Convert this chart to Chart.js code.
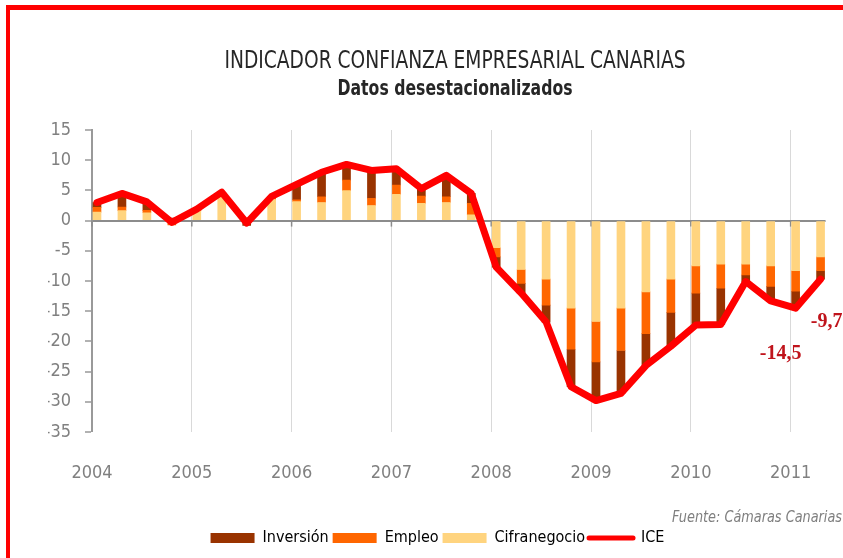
<!DOCTYPE html>
<html>
<head>
<meta charset="utf-8">
<title>Indicador Confianza Empresarial Canarias</title>
<script src="https://cdn.jsdelivr.net/npm/chart.js@4.4.1/dist/chart.umd.min.js"></script>
<style>
  html, body { margin: 0; padding: 0; background: #fff; }
  #wrap { position: relative; width: 843px; height: 558px; overflow: hidden; }
  #frame { position: absolute; left: 6px; top: 5px; width: 900px; height: 600px;
           border-top: 5px solid #ff0000; border-left: 4px solid #ff0000; }
  #iceChart { position: absolute; left: 0; top: 0; }
</style>
</head>
<body>
<div id="wrap">
  <div id="frame"></div>
  <canvas id="iceChart" width="843" height="558"></canvas>
</div>
<script>
// datos trimestrales 2004T1 - 2011T2
const YEARS = ['2004', '2005', '2006', '2007', '2008', '2009', '2010', '2011'];
const CIFRA = [1.4, 1.65, 1.3, 0.2, 1.6, 3.9, 0.3, 3.5, 3.15, 3.0, 4.95, 2.5, 4.35, 2.85, 3.0, 0.95,
               -4.5, -8.1, -9.7, -14.5, -16.7, -14.5, -11.8, -9.7, -7.5, -7.2, -7.2, -7.5, -8.3, -6.0];
const EMPLEO = [0.8, 0.6, 0.4, -0.7, 0.1, 0.3, 0.1, 0.2, 0.3, 0.95, 1.75, 1.2, 1.55, 1.2, 0.95, 1.9,
                -1.5, -2.3, -4.3, -6.8, -6.7, -7.0, -6.9, -5.5, -4.5, -4.0, -1.8, -3.4, -3.4, -2.3];
const INVERSION = [0.8, 2.25, 1.4, 0.2, 0.2, 0.5, -0.8, 0.3, 2.55, 4.05, 2.6, 4.6, 2.7, 1.25, 3.55, 1.65,
                   -1.7, -1.6, -2.8, -6.2, -6.4, -7.1, -5.3, -5.6, -5.3, -6.0, -1.1, -2.4, -2.8, -1.4];
const ICE = [3.0, 4.5, 3.1, -0.3, 1.9, 4.7, -0.4, 4.0, 6.0, 8.0, 9.3, 8.3, 8.6, 5.3, 7.5, 4.5,
             -7.7, -12.0, -16.8, -27.5, -29.8, -28.6, -24.0, -20.8, -17.3, -17.2, -10.1, -13.3, -14.5, -9.7];
const ICE_LABELS = [[28, '-14,5', -15, 46], [29, '-9,7', 6, 43]];

const COLORS = {
    INVERSION: '#993300',
    EMPLEO: '#ff6600',
    CIFRA: '#ffd47f',
    ICE: '#ff0000'
};
const NARROW = '"Liberation Sans Narrow", "Arial Narrow", "DejaVu Sans Condensed", sans-serif';
const LEGEND_ORDER = [2, 1, 0, 3];

const toPoints = arr => arr.map((v, i) => ({ x: i, y: v }));

// texto comprimido en horizontal hasta un ancho dado
function fitText(ctx, text, x, y, width) {
    const w = ctx.measureText(text).width;
    ctx.save();
    ctx.translate(x, y);
    ctx.scale(Math.min(1, width / w), 1);
    ctx.fillText(text, 0, 0);
    ctx.restore();
}

// titulos, fuente y etiquetas del ICE
const decoPlugin = {
    id: 'deco',
    beforeDatasetsDraw(chart) {
        const { ctx, scales: { x, y } } = chart;
        const y0 = y.getPixelForValue(0);
        ctx.save();
        ctx.strokeStyle = '#8c8c8c';
        ctx.lineWidth = 1.5;
        x.ticks.forEach(t => {
            const px = x.getPixelForValue(t.value);
            ctx.beginPath();
            ctx.moveTo(px, y0);
            ctx.lineTo(px, y0 + 6);
            ctx.stroke();
        });
        ctx.restore();
    },
    afterDraw(chart) {
        const ctx = chart.ctx;
        ctx.save();
        ctx.textAlign = 'center';
        ctx.textBaseline = 'middle';
        ctx.fillStyle = '#262626';
        ctx.font = '24px ' + NARROW;
        fitText(ctx, 'INDICADOR CONFIANZA EMPRESARIAL CANARIAS', 455, 62, 461);
        ctx.font = 'bold 21px ' + NARROW;
        fitText(ctx, 'Datos desestacionalizados', 455, 90, 235);

        ctx.textAlign = 'right';
        ctx.fillStyle = '#7f7f7f';
        ctx.font = 'italic 15px ' + NARROW;
        fitText(ctx, 'Fuente: Cámaras Canarias', 842, 518, 170);

        const meta = chart.getDatasetMeta(3);
        ctx.textAlign = 'center';
        ctx.fillStyle = '#c0141c';
        ctx.font = 'bold 20px "Liberation Serif", "DejaVu Serif", serif';
        ICE_LABELS.forEach(([idx, text, dx, dy]) => {
            const pt = meta.data[idx];
            ctx.fillText(text, pt.x + dx, pt.y + dy);
        });
        ctx.restore();
    }
};

Chart.defaults.font.family = NARROW;

new Chart(document.getElementById('iceChart'), {
    type: 'bar',
    data: {
        datasets: [
            { label: 'Cifranegocio', data: toPoints(CIFRA), backgroundColor: COLORS.CIFRA, barThickness: 8, order: 1 },
            { label: 'Empleo', data: toPoints(EMPLEO), backgroundColor: COLORS.EMPLEO, barThickness: 8, order: 1 },
            { label: 'Inversión', data: toPoints(INVERSION), backgroundColor: COLORS.INVERSION, barThickness: 8, order: 1 },
            {
                type: 'line', label: 'ICE', data: toPoints(ICE), order: 0,
                borderColor: COLORS.ICE, borderWidth: 7, pointRadius: 0, tension: 0,
                borderJoinStyle: 'round', borderCapStyle: 'round', fill: false
            }
        ]
    },
    options: {
        responsive: false,
        animation: false,
        layout: { padding: { top: 130, left: 48, right: 16, bottom: 2 } },
        plugins: {
            tooltip: { enabled: false },
            legend: {
                position: 'bottom',
                labels: {
                    usePointStyle: true,
                    pointStyleWidth: 44,
                    boxHeight: 10,
                    padding: 4,
                    color: '#1a1a1a',
                    font: { size: 16 },
                    generateLabels: chart => LEGEND_ORDER.map(i => {
                        const ds = chart.data.datasets[i];
                        const isLine = ds.type === 'line';
                        return {
                            text: ds.label,
                            datasetIndex: i,
                            fillStyle: isLine ? 'rgba(0,0,0,0)' : ds.backgroundColor,
                            strokeStyle: isLine ? ds.borderColor : 'rgba(0,0,0,0)',
                            lineWidth: isLine ? 5 : 0,
                            lineCap: 'round',
                            pointStyle: isLine ? 'line' : 'rect',
                            hidden: false
                        };
                    })
                }
            }
        },
        scales: {
            x: {
                type: 'linear',
                min: -0.2,
                max: 29.2,
                offset: false,
                stacked: true,
                afterBuildTicks: axis => { axis.ticks = YEARS.map((yr, k) => ({ value: k * 4 - 0.2 })); },
                afterFit: axis => { axis.height = 94; },
                grid: { color: '#d9d9d9', lineWidth: 1, drawTicks: false, offset: false },
                border: { display: false },
                ticks: {
                    padding: 31,
                    color: '#808080',
                    font: { size: 18 },
                    autoSkip: false,
                    maxRotation: 0,
                    callback: (v, i) => YEARS[i]
                }
            },
            y: {
                min: -35,
                max: 15,
                stacked: true,
                afterFit: axis => { axis.width = 44; },
                ticks: { stepSize: 5, padding: 14, color: '#808080', font: { size: 18 } },
                grid: {
                    color: c => c.tick && c.tick.value === 0 ? '#8c8c8c' : 'rgba(0,0,0,0)',
                    lineWidth: c => c.tick && c.tick.value === 0 ? 2 : 0,
                    tickColor: '#999999',
                    tickWidth: 1.5,
                    tickLength: 7
                },
                border: { color: '#999999', width: 2 }
            }
        }
    },
    plugins: [decoPlugin]
});
</script>
</body>
</html>
